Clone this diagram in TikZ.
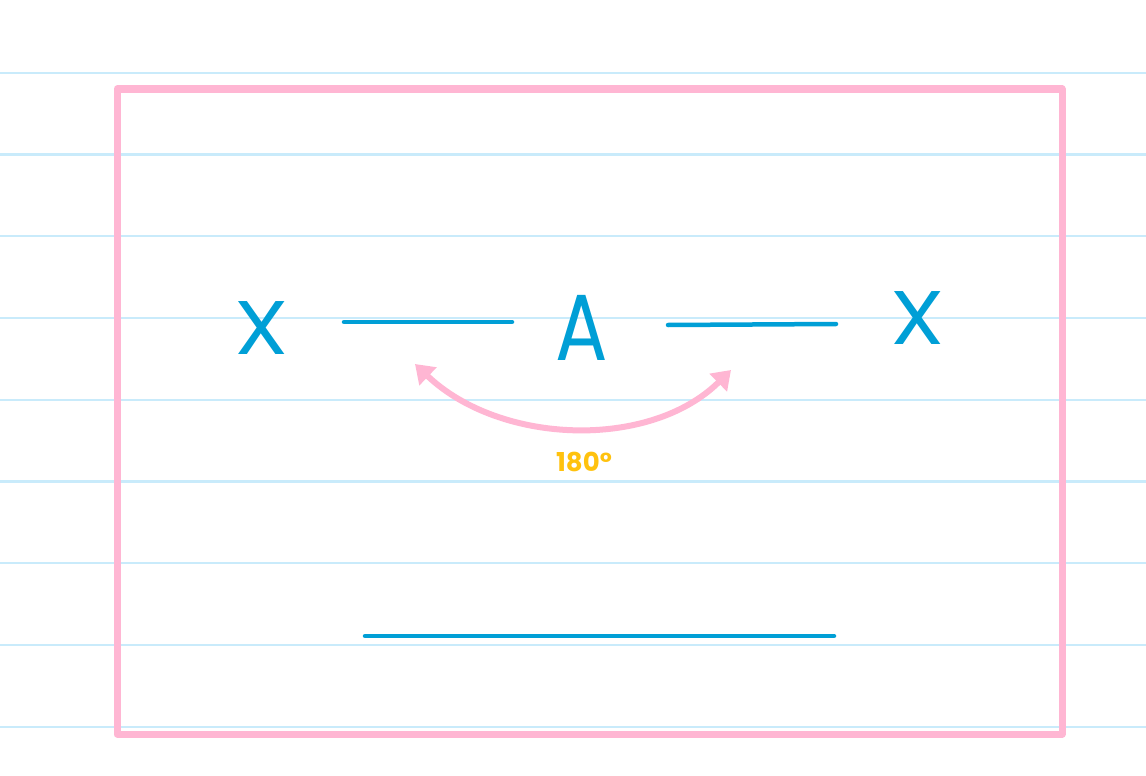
\documentclass[tikz,border=0pt]{standalone}
\usepackage{fontspec}
\setmainfont{Poppins}
\usetikzlibrary{arrows.meta}
\definecolor{ruleblue}{HTML}{C9EBFB}
\definecolor{framepink}{HTML}{FFB6D3}
\definecolor{inkblue}{HTML}{009FD6}
\definecolor{inkyellow}{HTML}{FFC20E}
\begin{document}
\begin{tikzpicture}[x=1pt,y=-1pt,
  rule/.style={draw=ruleblue,line width=2.5pt},
  frame/.style={draw=framepink,line width=7pt,line join=round},
  seg/.style={draw=inkblue,line width=4.5pt,line cap=round},
  letter/.style={text=inkblue,inner sep=0pt,font=\fontsize{76}{76}\selectfont,xscale=1.15},
  turn/.style={draw=framepink,line width=6pt,line cap=round,{Triangle[length=18pt,width=24pt]}-{Triangle[length=18pt,width=24pt]}},
  anglelabel/.style={text=inkyellow,inner sep=0pt,font=\bfseries\fontsize{26}{26}\selectfont}]
\useasboundingbox (0,0) rectangle (1146,776);
\fill[white] (0,0) rectangle (1146,776);
\foreach \yy in {73,154.5,236,318,400,481.5,563,645,727}
  \draw[rule] (0,\yy) -- (1146,\yy);
\draw[frame] (117,89) rectangle (1062,734);
\node[letter] (x1) at (262,328) {X};
\node[letter] (x2) at (918,318) {X};
\node[letter,font=\fontsize{94}{94}\selectfont,xscale=0.72] (a) at (582,328) {A};
\coordinate (l1a) at (344,322); \coordinate (l1b) at (512,322);
\coordinate (l2a) at (668,325); \coordinate (l2b) at (836,324);
\coordinate (l3a) at (365,636); \coordinate (l3b) at (834,636);
\draw[seg] (l1a) -- (l1b);
\draw[seg] (l2a) -- (l2b);
\draw[seg] (l3a) -- (l3b);
\coordinate (arcL) at (415,364);
\coordinate (arcR) at (731,370);
\draw[turn] (arcL) .. controls (500,445) and (650,450) .. (arcR);
\node[anglelabel] (ang) at (584,462) {180°};
\end{tikzpicture}
\end{document}
